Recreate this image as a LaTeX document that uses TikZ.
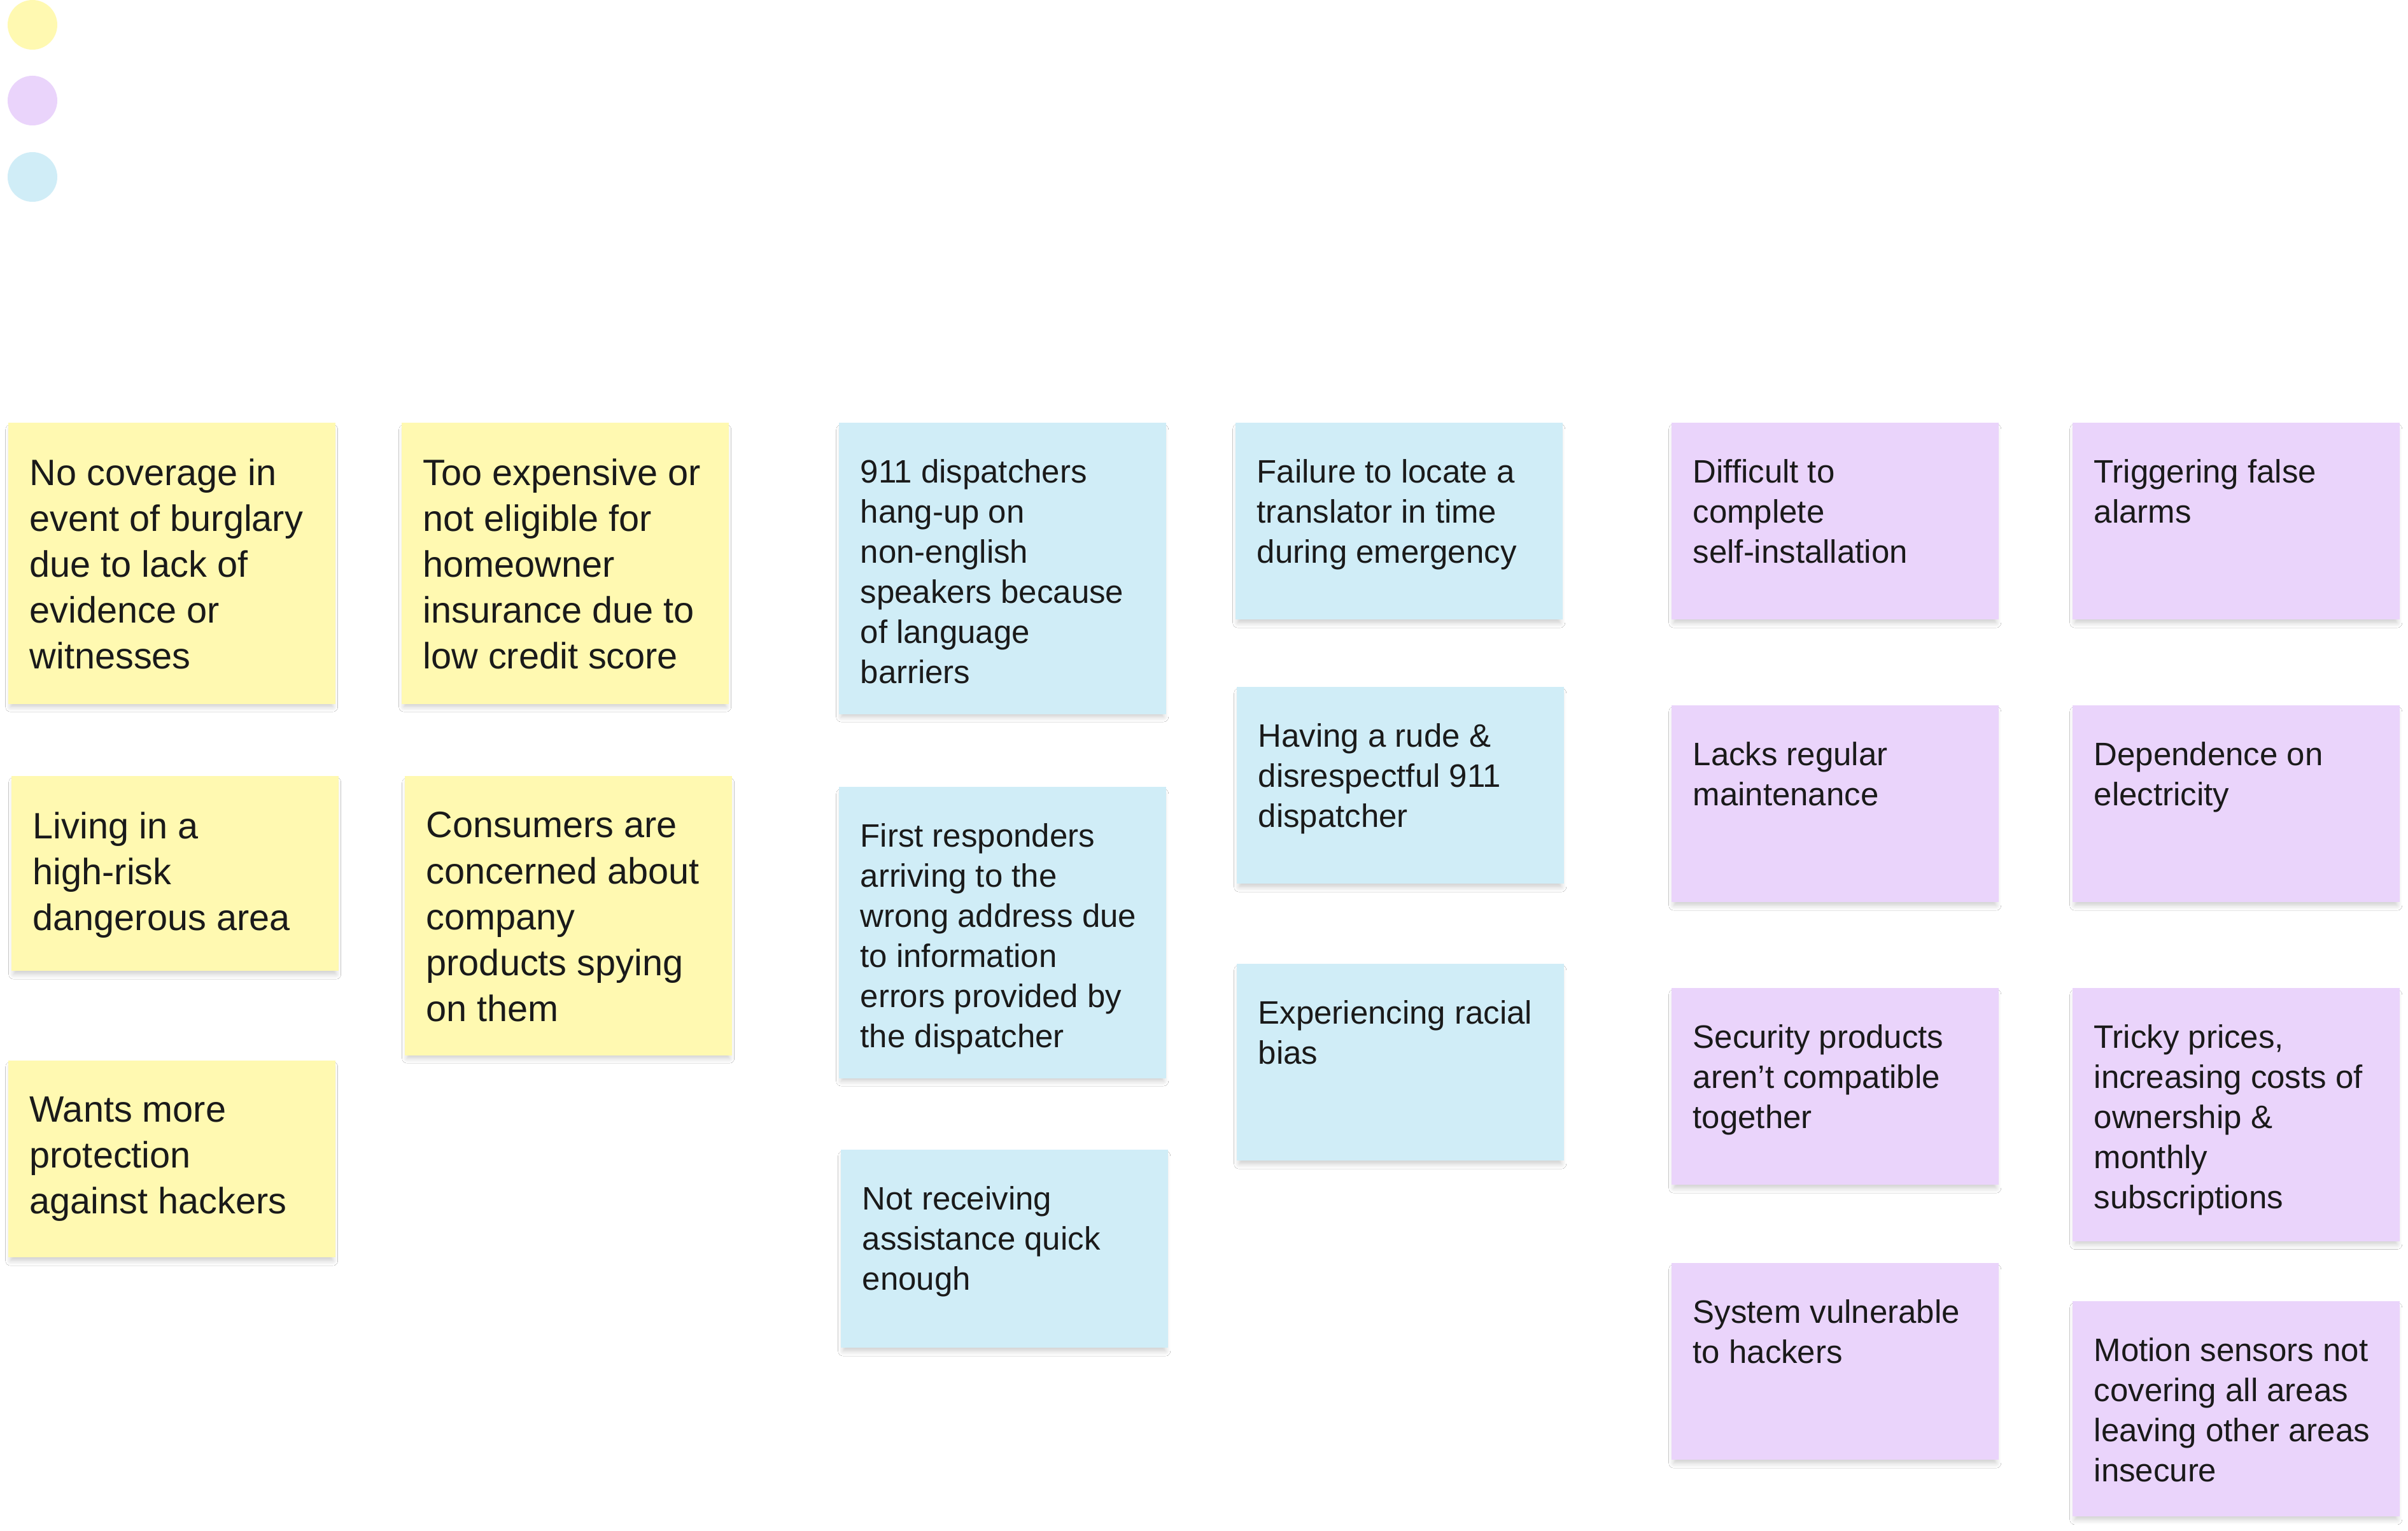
\documentclass[tikz,border=0pt]{standalone}
\usepackage{fontspec}
\setmainfont{Liberation Sans}
\usetikzlibrary{shadows.blur}
\definecolor{stickyyellow}{HTML}{FFF9B1}
\definecolor{stickyblue}{HTML}{D0EDF7}
\definecolor{stickypurple}{HTML}{EAD4FB}
\definecolor{inkgray}{HTML}{1A1A1A}

\begin{document}
\begin{tikzpicture}[
  sticky/.style={rectangle,inner sep=0pt,minimum width=5.14cm,anchor=north west,
    blur shadow={shadow xshift=0cm,shadow yshift=-0.08cm,shadow scale=0.985,
      shadow blur radius=0.08cm,shadow blur steps=6,shadow opacity=20}},
  ylw/.style={sticky,fill=stickyyellow},
  blu/.style={sticky,fill=stickyblue},
  prp/.style={sticky,fill=stickypurple},
  bigtext/.style={anchor=north west,inner sep=0pt,align=left,text=inkgray,
    font=\fontsize{16.4pt}{20.5pt}\selectfont},
  smalltext/.style={anchor=north west,inner sep=0pt,align=left,text=inkgray,
    font=\fontsize{14.5pt}{17.9pt}\selectfont},
  keydot/.style={circle,inner sep=0pt,minimum size=0.78cm}
]
\useasboundingbox[fill=white] (0,0) rectangle (37.83,-24.05);

\node[keydot,fill=stickyyellow] (keyyellow) at (0.51,-0.39) {};
\node[keydot,fill=stickypurple] (keypurple) at (0.51,-1.58) {};
\node[keydot,fill=stickyblue] (keyblue) at (0.51,-2.78) {};

\node[ylw,minimum height=4.42cm] (n1) at (0.12,-6.63) {};
\node[bigtext] (t1) at ([shift={(0.34cm,-0.57cm)}]n1.north west) {No coverage in\\event of burglary\\due to lack of\\evidence or\\witnesses};
\node[ylw,minimum height=3.06cm] (n2) at (0.17,-12.18) {};
\node[bigtext] (t2) at ([shift={(0.34cm,-0.57cm)}]n2.north west) {Living in a\\high-risk\\dangerous area};
\node[ylw,minimum height=3.09cm] (n3) at (0.12,-16.65) {};
\node[bigtext] (t3) at ([shift={(0.34cm,-0.57cm)}]n3.north west) {Wants more\\protection\\against hackers};

\node[ylw,minimum height=4.42cm] (n4) at (6.30,-6.63) {};
\node[bigtext] (t4) at ([shift={(0.34cm,-0.57cm)}]n4.north west) {Too expensive or\\not eligible for\\homeowner\\insurance due to\\low credit score};
\node[ylw,minimum height=4.39cm] (n5) at (6.35,-12.18) {};
\node[bigtext] (t5) at ([shift={(0.34cm,-0.57cm)}]n5.north west) {Consumers are\\concerned about\\company\\products spying\\on them};

\node[blu,minimum height=4.58cm] (n6) at (13.17,-6.63) {};
\node[smalltext] (t6) at ([shift={(0.34cm,-0.58cm)}]n6.north west) {911 dispatchers\\hang-up on\\non-english\\speakers because\\of language\\barriers};
\node[blu,minimum height=4.58cm] (n7) at (13.17,-12.35) {};
\node[smalltext] (t7) at ([shift={(0.34cm,-0.58cm)}]n7.north west) {First responders\\arriving to the\\wrong address due\\to information\\errors provided by\\the dispatcher};
\node[blu,minimum height=3.11cm] (n8) at (13.20,-18.05) {};
\node[smalltext] (t8) at ([shift={(0.34cm,-0.58cm)}]n8.north west) {Not receiving\\assistance quick\\enough};

\node[blu,minimum height=3.09cm] (n9) at (19.40,-6.63) {};
\node[smalltext] (t9) at ([shift={(0.34cm,-0.58cm)}]n9.north west) {Failure to locate a\\translator in time\\during emergency};
\node[blu,minimum height=3.09cm] (n10) at (19.42,-10.78) {};
\node[smalltext] (t10) at ([shift={(0.34cm,-0.58cm)}]n10.north west) {Having a rude \&\\disrespectful 911\\dispatcher};
\node[blu,minimum height=3.09cm] (n11) at (19.42,-15.13) {};
\node[smalltext] (t11) at ([shift={(0.34cm,-0.58cm)}]n11.north west) {Experiencing racial\\bias};

\node[prp,minimum height=3.09cm] (n12) at (26.25,-6.63) {};
\node[smalltext] (t12) at ([shift={(0.34cm,-0.58cm)}]n12.north west) {Difficult to\\complete\\self-installation};
\node[prp,minimum height=3.09cm] (n13) at (26.25,-11.07) {};
\node[smalltext] (t13) at ([shift={(0.34cm,-0.58cm)}]n13.north west) {Lacks regular\\maintenance};
\node[prp,minimum height=3.09cm] (n14) at (26.25,-15.51) {};
\node[smalltext] (t14) at ([shift={(0.34cm,-0.58cm)}]n14.north west) {Security products\\aren’t compatible\\together};
\node[prp,minimum height=3.09cm] (n15) at (26.25,-19.83) {};
\node[smalltext] (t15) at ([shift={(0.34cm,-0.58cm)}]n15.north west) {System vulnerable\\to hackers};

\node[prp,minimum height=3.09cm] (n16) at (32.55,-6.63) {};
\node[smalltext] (t16) at ([shift={(0.34cm,-0.58cm)}]n16.north west) {Triggering false\\alarms};
\node[prp,minimum height=3.09cm] (n17) at (32.55,-11.07) {};
\node[smalltext] (t17) at ([shift={(0.34cm,-0.58cm)}]n17.north west) {Dependence on\\electricity};
\node[prp,minimum height=3.98cm] (n18) at (32.55,-15.51) {};
\node[smalltext] (t18) at ([shift={(0.34cm,-0.58cm)}]n18.north west) {Tricky prices,\\increasing costs of\\ownership \&\\monthly\\subscriptions};
\node[prp,minimum height=3.38cm] (n19) at (32.55,-20.43) {};
\node[smalltext] (t19) at ([shift={(0.34cm,-0.58cm)}]n19.north west) {Motion sensors not\\covering all areas\\leaving other areas\\insecure};
\end{tikzpicture}
\end{document}
